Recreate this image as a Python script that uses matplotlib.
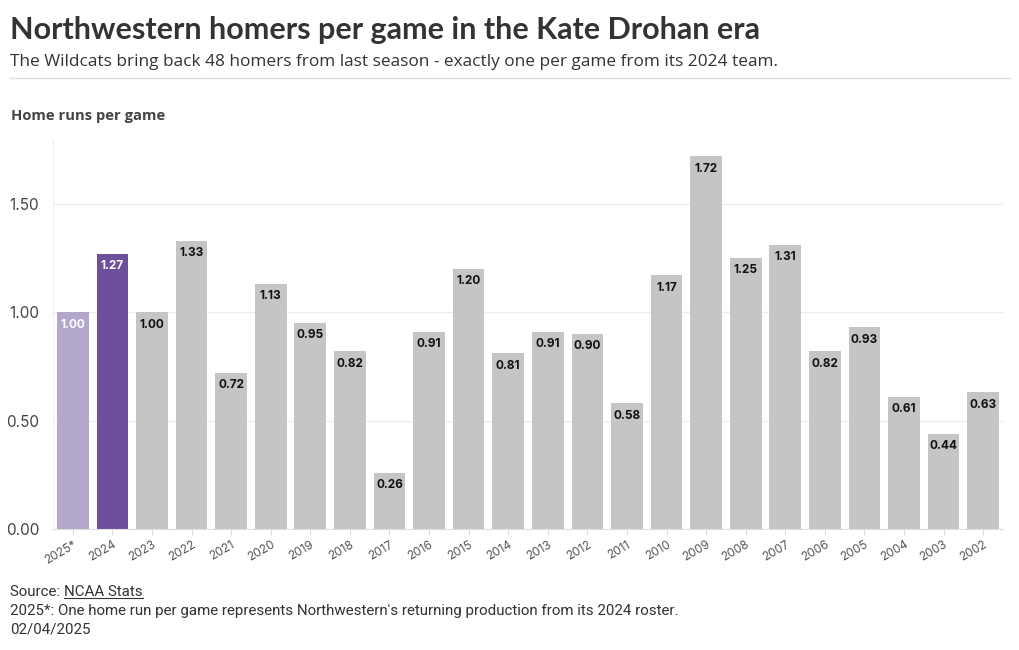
import matplotlib
matplotlib.use("Agg")
import matplotlib.pyplot as plt

years = ["2025*", "2024", "2023", "2022", "2021", "2020", "2019", "2018", "2017", "2016",
         "2015", "2014", "2013", "2012", "2011", "2010", "2009", "2008", "2007", "2006",
         "2005", "2004", "2003", "2002"]
hr_per_game = [1.00, 1.27, 1.00, 1.33, 0.72, 1.13, 0.95, 0.82, 0.26, 0.91,
               1.20, 0.81, 0.91, 0.90, 0.58, 1.17, 1.72, 1.25, 1.31, 0.82,
               0.93, 0.61, 0.44, 0.63]
y_ticks = [0.0, 0.5, 1.0, 1.5]

title = "Northwestern homers per game in the Kate Drohan era"
subtitle = "The Wildcats bring back 48 homers from last season - exactly one per game from its 2024 team."
axis_title = "Home runs per game"
note = "2025*: One home run per game represents Northwestern's returning production from its 2024 roster."
date = "02/04/2025"

c_proj = "#b3a7cb"
c_2024 = "#6e4f9c"
c_gray = "#c6c4c6"
colors = [c_proj, c_2024] + [c_gray] * (len(years) - 2)
label_colors = ["white", "white"] + ["#111111"] * (len(years) - 2)

plt.rcParams['font.family'] = ['Open Sans', 'DejaVu Sans']

W, H = 1020, 650
fig = plt.figure(figsize=(W / 100, H / 100), dpi=100)
ax = fig.add_axes([53/W, 1 - 529/H, 950/W, 389/H])

x = list(range(len(years)))
ax.bar(x, hr_per_game, width=0.8, color=colors, zorder=2)

for xi, v, bc, lc in zip(x, hr_per_game, colors, label_colors):
    ax.annotate(f"{v:.2f}", xy=(xi, v), xytext=(0, -4.5), textcoords="offset points",
                ha="center", va="top", fontsize=8.5, fontweight="bold", color=lc,
                family=["Inter", "DejaVu Sans"], zorder=3,
                bbox=dict(boxstyle="square,pad=0.12", fc=bc, ec="none"))

ax.set_xlim(-0.5, len(years) - 0.5)
ax.set_ylim(0, 1.795)
ax.set_yticks(y_ticks)
ax.set_yticklabels([f"{t:.2f}" for t in y_ticks], fontsize=11, color="#444444",
                   family=["Inter", "DejaVu Sans"])
ax.set_xticks(x)
ax.set_xticklabels(years, rotation=30, ha="right", rotation_mode="anchor",
                   fontsize=8.5, color="#555555", family=["Inter", "DejaVu Sans"])
ax.tick_params(axis="y", length=0, pad=10)
ax.tick_params(axis="x", length=4, color="#dddddd", pad=3)
ax.grid(axis="y", color="#ececec", linewidth=0.8, zorder=0)
for s in ["top", "right"]:
    ax.spines[s].set_visible(False)
ax.spines["left"].set_color("#eeeeee")
ax.spines["bottom"].set_color("#dddddd")


def fit_text(xpx, ypx, s, target_w, size, **kw):
    t = fig.text(xpx / W, 1 - ypx / H, s, fontsize=size, va="center", ha="left", **kw)
    fig.canvas.draw()
    w = t.get_window_extent().width
    t.set_fontsize(size * target_w / w)
    return t


fit_text(10, 30, title, 747, 21, fontweight="bold", color="#333333", family=["Lato", "DejaVu Sans"])
fit_text(10, 62, subtitle, 765, 12.5, color="#333333", family=["Open Sans", "DejaVu Sans"])
fig.add_artist(plt.Line2D([10/W, 1010/W], [1 - 78/H, 1 - 78/H],
                          color="#dddddd", linewidth=1, transform=fig.transFigure))
fit_text(11, 116, axis_title, 155, 11.5, fontweight="bold", color="#444444")

foot_font = ["Roboto", "DejaVu Sans"]
nt = fit_text(10, 611, note, 676, 10.5, color="#333333", family=foot_font)
fsize = nt.get_fontsize()
t = fig.text(10/W, 1 - 592/H, "Source: ", fontsize=fsize, color="#333333",
             va="center", ha="left", family=foot_font)
fig.canvas.draw()
bb = t.get_window_extent()
src = fig.text(bb.x1 / W, 1 - 592/H, "NCAA Stats", fontsize=fsize, color="#333333",
               va="center", ha="left", family=foot_font)
fig.canvas.draw()
bb2 = src.get_window_extent()
fig.add_artist(plt.Line2D([bb2.x0 / W, bb2.x1 / W],
                          [(bb2.y0 + 1) / H, (bb2.y0 + 1) / H],
                          color="#333333", linewidth=0.8, transform=fig.transFigure))
fig.text(10/W, 1 - 630/H, date, fontsize=fsize, color="#333333",
         va="center", ha="left", family=foot_font)

fig.savefig("out.png", dpi=100, facecolor="white")
